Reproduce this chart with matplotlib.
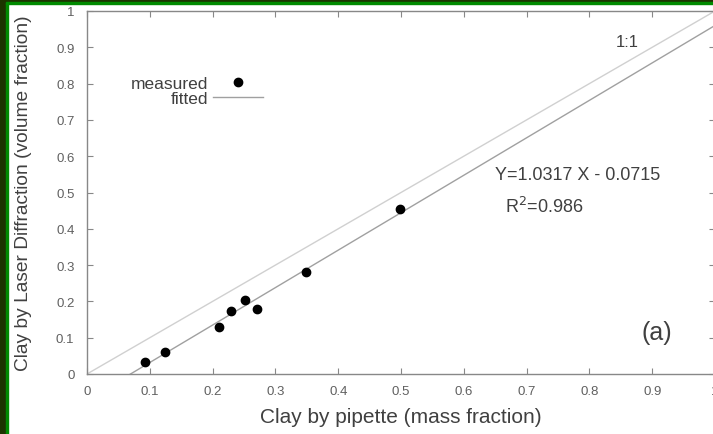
import matplotlib
matplotlib.use('Agg')
import matplotlib.pyplot as plt
from matplotlib.patches import Rectangle
import numpy as np

plt.rcParams['font.family'] = ['Liberation Sans', 'DejaVu Sans']

# 实测数据 (pipette vs laser diffraction)
pipette = [0.092, 0.124, 0.210, 0.230, 0.251, 0.270, 0.349, 0.499]
laser = [0.032, 0.061, 0.129, 0.174, 0.204, 0.179, 0.280, 0.455]
# 拟合参数
slope = 1.0317
intercept = -0.0715
r2 = 0.986
ticks = [0, 0.1, 0.2, 0.3, 0.4, 0.5, 0.6, 0.7, 0.8, 0.9, 1]
tick_labels = ['0', '0.1', '0.2', '0.3', '0.4', '0.5', '0.6', '0.7', '0.8', '0.9', '1']

W, H = 713, 435
fig = plt.figure(figsize=(W / 100, H / 100), dpi=100)
fig.patch.set_facecolor('white')
ax = fig.add_axes([87 / W, (H - 375) / H, (715 - 87) / W, (375 - 12) / H])

# 1:1 线和拟合线
xx = np.array([0.0, 1.0])
ax.plot(xx, xx, color='#d0d0d0', lw=1.0, zorder=2)
ax.plot(xx, slope * xx + intercept, color='#a0a0a0', lw=1.0, zorder=2, label='fitted')
ax.plot(pipette, laser, 'o', color='black', markersize=6, zorder=3, label='measured')

ax.set_xlim(0, 1)
ax.set_ylim(0, 1)
ax.set_xticks(ticks)
ax.set_xticklabels(tick_labels)
ax.set_yticks(ticks)
ax.set_yticklabels(tick_labels)
ax.tick_params(direction='in', length=4, width=0.8, color='#888888',
               labelcolor='#606060', labelsize=9.5, top=True, right=True)
ax.tick_params(axis='y', pad=9)
ax.tick_params(axis='x', pad=8)
for sp in ax.spines.values():
    sp.set_color('#888888')
    sp.set_linewidth(1.0)

ax.set_xlabel('Clay by pipette (mass fraction)', fontsize=15, color='#404040', labelpad=7)
ax.set_ylabel('Clay by Laser Diffraction (volume fraction)', fontsize=13.8, color='#404040', labelpad=17)

# 图例：文字在左，符号在右
handles, labels = ax.get_legend_handles_labels()
leg = ax.legend(handles[::-1], labels[::-1], loc='upper right', bbox_to_anchor=(0.281, 0.822),
                frameon=False, markerfirst=False, fontsize=12.5, handlelength=2.9,
                handletextpad=0.3, labelspacing=0.0, borderpad=0, borderaxespad=0)
for t in leg.get_texts():
    t.set_color('#404040')

ax.text(0.86, 0.915, '1:1', fontsize=12, color='#404040', ha='center', va='center')
ax.text(0.649, 0.55, f'Y={slope:.4f} X - {abs(intercept):.4f}', fontsize=13,
        color='#404040', ha='left', va='center')
ax.text(0.666, 0.463, f'R$^2$={r2:.3f}', fontsize=13, color='#404040', ha='left', va='center')
ax.text(0.908, 0.116, '(a)', fontsize=18, color='#404040', ha='center', va='center')

# 绿色边框 (左、上)
fig.add_artist(Rectangle((0, 0), 6 / W, 1, transform=fig.transFigure, color='#1c3400', zorder=10))
fig.add_artist(Rectangle((6 / W, 0), 1.5 / W, 1, transform=fig.transFigure, color='#008a00', zorder=10))
fig.add_artist(Rectangle((0, 1 - 3 / H), 1, 3 / H, transform=fig.transFigure, color='#1c3400', zorder=10))
fig.add_artist(Rectangle((6 / W, 1 - 5 / H), 1, 2 / H, transform=fig.transFigure, color='#008a00', zorder=10))

fig.savefig('out.png', dpi=100)
